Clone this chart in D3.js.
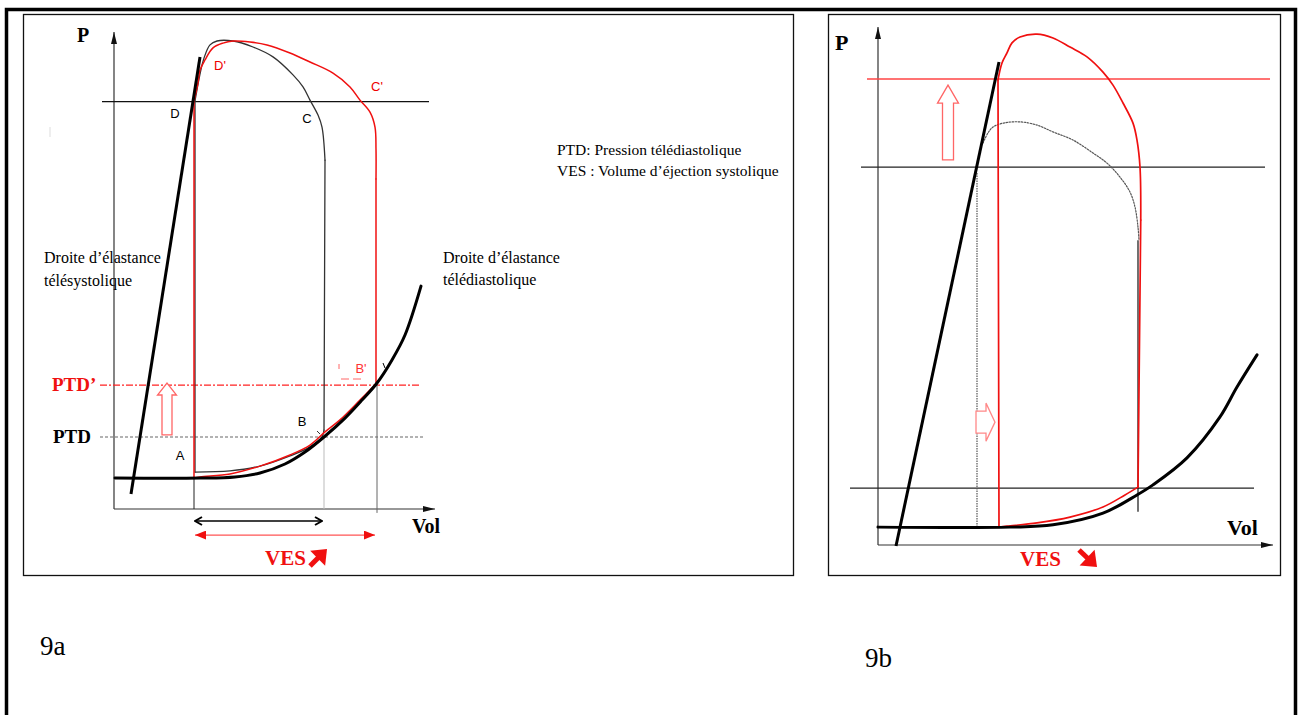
<!DOCTYPE html>
<html><head><meta charset="utf-8">
<script src="https://cdn.jsdelivr.net/npm/d3@7"></script>
<style>body{margin:0;background:#fff;}svg{display:block;}</style>
</head><body>
<svg id="c" width="1300" height="715"></svg>
<script>
// ---------- DATA (Vol in mL, P in mmHg) ----------
// Panel 9a
const espvrA = [[8.5,5],[43,150.7]];
const edpvrA = [[0.5,10.3],[43,10.3],[60.5,10.7],[73,12],[85.5,15],[95.5,19],[105,24],[115.5,30.3],[124,36.3],[131.5,42],[139,49.7],[145.5,58],[153.5,74.3]];
// original loop (black), in pieces
const loopA_bottom = [[40.5,12.3],[58,12.7],[73,14.3],[88,17.7],[98,20.7],[104,24],[105,26.3]];
const loopA_right  = [[105,26.3],[105.5,116.3]];
const loopA_top    = [[105.5,116.3],[104,127.3],[102,131.3],[98,136.3],[94.5,140.7],[89.5,144.7],[79.5,150.7],[69.5,154],[59.5,156],[51.5,156],[48,154.7],[45,150.3],[43,145],[40.5,136]];
const loopA_left   = [[40.5,136],[40.5,12.3]];
// new loop (red), in pieces
const loopA2_left   = [[40,10.3],[40,136]];
const loopA2_top    = [[40,136],[42,142],[43,146.3],[45.5,149.7],[49.5,153.7],[54.5,155.3],[59.5,156],[68,155.7],[76.5,154.7],[88,152],[98,149],[109.5,145.3],[118,140.7],[123,136.3],[128,132.3],[130.5,127.3],[131,120],[131,110]];
const loopA2_right  = [[131,110],[131,41.7]];
const loopA2_bottom = [[131,41.7],[123,36.3],[113,29.7],[105.5,25.7],[98,21.3],[88,18],[73,14.3],[58,11.7],[43,10.7],[40,10.3]];
const refLinesA = [ {p:135.8, v0:-6, v1:157.5, kind:"black"}, {p:41.3, v0:-7, v1:153, kind:"ptd2"}, {p:24, v0:-7, v1:154.5, kind:"ptd"} ];
const dropsA = [ {v:40, p0:10.3, p1:0, kind:"black"}, {v:105, p0:24, p1:0, kind:"light"}, {v:131.5, p0:41.7, p1:-1.3, kind:"gray"} ];
const vesA = [ {p:-4, v0:40.5, v1:104, kind:"black"}, {p:-8.7, v0:40.5, v1:130.5, kind:"red"} ];
const upArrowA = {v:26.5, p0:24.7, p1:42};
const labelsA = [ {t:"D",v:30.5,p:132,c:"#000"}, {t:"C",v:96.5,p:130.3,c:"#000"}, {t:"D'",v:53,p:147.7,c:"#e00"}, {t:"C'",v:131.5,p:140.7,c:"#e00"}, {t:"A",v:33,p:18,c:"#000"}, {t:"B",v:94,p:29.3,c:"#000"}, {t:"B'",v:123.5,p:47,c:"#f33"} ];
const sideTextA = ["PTD: Pression télédiastolique","VES : Volume d’éjection systolique"];
const espvrTextA = ["Droite d’élastance","télésystolique"];
const edpvrTextA = ["Droite d’élastance","télédiastolique"];

// Panel 9b
const espvrB = [[7.2,-0.3],[48.4,148.6]];
const edpvrB = [[0,5.5],[52.8,5.5],[70,6.2],[90,9.8],[103.6,15.4],[110,18.5],[123.6,26.8],[136.8,39.4],[143.6,48.6],[151.6,58.5]];
const loopB2_left   = [[48.4,5.5],[48,143.1]];
const loopB2_top    = [[48,143.1],[49.6,148.3],[51.6,151.4],[53.6,154.5],[56.8,156.3],[63.6,157.2],[70,156],[76.8,153.2],[83.6,150.2],[90,145.5],[94,141.5],[98,136],[102,129.8],[103.6,124.6],[104.8,116.3],[105.1,100]];
const loopB2_right  = [[105.1,100],[104,17.8]];
const loopB2_bottom = [[104,17.8],[98.8,15.4],[90,11.7],[76.8,8.6],[63.6,6.8],[51.6,5.8],[48.4,5.5]];
const loopBTop = [[42,123.7],[44,126.8],[46,128.6],[50,129.8],[56.8,130.2],[63.6,129.2],[70,127.1],[78,124.6],[86,120.6],[91.6,117.5],[96.8,113.2],[100.8,108.6],[102.8,104],[104,97.8],[104.4,93.8]];
const refLinesB = [ {p:143.4, v0:-4.4, v1:156.8, kind:"red"}, {p:116.3, v0:-6.8, v1:154.8, kind:"black"}, {p:17.5, v0:-11.2, v1:150.4, kind:"black"} ];
const dropsB = [ {v:104, p0:93.8, p1:10.2, kind:"black"}, {v:39.6, p0:114.5, p1:5.5, kind:"dotted"} ];
const upArrowB = {v:28, p0:118.5, p1:141.5};
const rightArrowB = {p:37.8, v0:39.2, v1:46.8};

// ---------- SCALES ----------
const xA = d3.scaleLinear().domain([0,160]).range([114,434]);
const yA = d3.scaleLinear().domain([0,160]).range([509,29]);
const xB = d3.scaleLinear().domain([0,160]).range([878,1278]);
const yB = d3.scaleLinear().domain([0,160]).range([545,25]);

const svg = d3.select("#c");
const SERIF = "'Liberation Serif','Times New Roman',serif";
const SANS = "'Liberation Sans',Arial,sans-serif";
const RED = "#f01010";

const defs = svg.append("defs");
function marker(id, d, w, h, refX, color, vb){
  defs.append("marker").attr("id",id).attr("viewBox",vb).attr("markerWidth",w).attr("markerHeight",h)
    .attr("markerUnits","userSpaceOnUse").attr("refX",refX).attr("refY",0).attr("orient","auto-start-reverse")
    .append("path").attr("d",d).attr("fill",color).attr("stroke","none");
}
marker("axArr","M0,-3L12,0L0,3Z",12,6,12,"#111","0 -3 12 6");
marker("redArr","M0,-4.5L11,0L0,4.5Z",11,9,11,RED,"0 -4.5 11 9");
defs.append("marker").attr("id","blkChev").attr("viewBox","0 -5 10 10").attr("markerWidth",10).attr("markerHeight",10)
  .attr("markerUnits","userSpaceOnUse").attr("refX",9).attr("refY",0).attr("orient","auto-start-reverse")
  .append("path").attr("d","M2,-4L9,0L2,4").attr("fill","none").attr("stroke","#000").attr("stroke-width",2);

// ---------- FRAMES ----------
svg.append("path").attr("d","M6.5,715V9.5H1295.5V715").attr("fill","none").attr("stroke","#000").attr("stroke-width",3.5);
svg.append("rect").attr("x",23.5).attr("y",14.5).attr("width",770).attr("height",561).attr("fill","none").attr("stroke","#111").attr("stroke-width",1.3);
svg.append("rect").attr("x",828.5).attr("y",14.5).attr("width",452).attr("height",561).attr("fill","none").attr("stroke","#111").attr("stroke-width",1.3);

// ---------- helpers ----------
function curve(g, x, y, pts, style){
  const line = d3.line().x(d=>x(d[0])).y(d=>y(d[1])).curve(d3.curveCatmullRom.alpha(0.5));
  const p = g.append("path").attr("d", line(pts)).attr("fill","none").attr("stroke-linecap","round").attr("stroke-linejoin","round");
  Object.entries(style).forEach(([k,v])=>p.attr(k,v));
  return p;
}
function straight(g, x, y, pts, style){
  const line = d3.line().x(d=>x(d[0])).y(d=>y(d[1]));
  const p = g.append("path").attr("d", line(pts)).attr("fill","none");
  Object.entries(style).forEach(([k,v])=>p.attr(k,v));
  return p;
}
function loop(g, x, y, pieces, style){
  pieces.forEach(([kind, pts])=>{
    const p = kind==="c" ? curve(g,x,y,pts,style) : straight(g,x,y,pts,style);
    p.attr("stroke-linecap","round");
  });
}
function hollowArrow(g, x0,y0,x1,y1, bw, hw, hl, color){
  const dx=x1-x0, dy=y1-y0, L=Math.hypot(dx,dy), ux=dx/L, uy=dy/L, nx=-uy, ny=ux;
  const bx=x1-ux*hl, by=y1-uy*hl;
  const pts=[[x0+nx*bw,y0+ny*bw],[bx+nx*bw,by+ny*bw],[bx+nx*hw,by+ny*hw],[x1,y1],[bx-nx*hw,by-ny*hw],[bx-nx*bw,by-ny*bw],[x0-nx*bw,y0-ny*bw]];
  g.append("path").attr("d","M"+pts.map(p=>p.join(",")).join("L")+"Z").attr("fill","#fff").attr("stroke",color).attr("stroke-width",1.3);
}
function axes(g, x, y, vmax, pmax){
  g.append("line").attr("x1",x(0)).attr("y1",y(0)).attr("x2",x(0)).attr("y2",y(pmax)).attr("stroke","#333").attr("stroke-width",1.2).attr("marker-end","url(#axArr)");
  g.append("line").attr("x1",x(0)).attr("y1",y(0)).attr("x2",x(vmax)).attr("y2",y(0)).attr("stroke","#333").attr("stroke-width",1.2).attr("marker-end","url(#axArr)");
}
function text(g, x, y, t, size, opts={}){
  const e = g.append("text").attr("x",x).attr("y",y).text(t).attr("font-size",size)
    .attr("font-family",opts.family||SERIF).attr("fill",opts.fill||"#000");
  if(opts.bold) e.attr("font-weight","bold");
  if(opts.anchor) e.attr("text-anchor",opts.anchor);
  if(opts.mid) e.attr("dominant-baseline","central");
  return e;
}
function bigArrow(g, x0,y0,x1,y1, color){
  // heavy diagonal arrow glyph from (x0,y0) tail to (x1,y1) tip
  const dx=x1-x0, dy=y1-y0, L=Math.hypot(dx,dy), ux=dx/L, uy=dy/L, nx=-uy, ny=ux;
  const hl=L*0.55, hw=hl*0.8;
  g.append("line").attr("x1",x0).attr("y1",y0).attr("x2",x1-ux*hl*0.7).attr("y2",y1-uy*hl*0.7).attr("stroke",color).attr("stroke-width",5);
  const bx=x1-ux*hl, by=y1-uy*hl;
  g.append("path").attr("d",`M${x1},${y1}L${bx+nx*hw},${by+ny*hw}L${bx-nx*hw},${by-ny*hw}Z`).attr("fill",color);
}

// ---------- PANEL 9a ----------
const gA = svg.append("g");
axes(gA, xA, yA, 160.5, 159);
refLinesA.forEach(r=>{
  const st = r.kind==="black" ? {stroke:"#111","stroke-width":1.3}
           : r.kind==="ptd2" ? {stroke:"#f22","stroke-width":1.1,"stroke-dasharray":"7,2,2,2"}
           : {stroke:"#666","stroke-width":1.1,"stroke-dasharray":"3,2"};
  straight(gA, xA, yA, [[r.v0,r.p],[r.v1,r.p]], st);
});
dropsA.forEach(d=>{
  const st = d.kind==="black" ? {stroke:"#222","stroke-width":1} : d.kind==="light" ? {stroke:"#bbb","stroke-width":1} : {stroke:"#666","stroke-width":1};
  straight(gA, xA, yA, [[d.v,d.p0],[d.v,d.p1]], st);
});
loop(gA, xA, yA, [["c",loopA_bottom],["l",loopA_right],["c",loopA_top],["l",loopA_left]], {stroke:"#333","stroke-width":1.3});
loop(gA, xA, yA, [["l",loopA2_left],["c",loopA2_top],["l",loopA2_right],["c",loopA2_bottom]], {stroke:RED,"stroke-width":1.5});
straight(gA, xA, yA, espvrA, {stroke:"#000","stroke-width":3});
curve(gA, xA, yA, edpvrA, {stroke:"#000","stroke-width":3});
vesA.forEach(a=>{
  const red = a.kind==="red";
  straight(gA, xA, yA, [[a.v0,a.p],[a.v1,a.p]], {stroke: red?"#f55":"#000","stroke-width":red?1.2:1.6,
    "marker-start": red?"url(#redArr)":"url(#blkChev)", "marker-end": red?"url(#redArr)":"url(#blkChev)"});
});
hollowArrow(gA, xA(upArrowA.v), yA(upArrowA.p0), xA(upArrowA.v), yA(upArrowA.p1), 5, 9.5, 12, "#f66");
gA.append("path").attr("d","M339,364V369 M341,379H349 M353,379H361").attr("stroke","#f66").attr("stroke-width",1).attr("fill","none");
gA.append("path").attr("d","M383,363L385,368").attr("stroke","#000").attr("stroke-width",1).attr("fill","none");
gA.append("path").attr("d","M317,431L320,434").attr("stroke","#333").attr("stroke-width",1).attr("fill","none");
gA.append("line").attr("x1",50).attr("y1",127).attr("x2",50).attr("y2",137).attr("stroke","#ddd").attr("stroke-width",1);
labelsA.forEach(l=> text(gA, xA(l.v), yA(l.p), l.t, 13, {family:SANS, fill:l.c, anchor:"middle", mid:true}));
text(gA, 77, 42, "P", 20, {bold:true});
text(gA, 412, 533, "Vol", 20, {bold:true});
text(gA, 52, 391, "PTD’", 19, {bold:true, fill:RED});
text(gA, 53, 443, "PTD", 19, {bold:true});
text(gA, 265, 565, "VES", 21, {bold:true, fill:RED});
bigArrow(gA, 310, 566, 327, 549, RED);
espvrTextA.forEach((t,i)=> text(gA, 44, 263+i*23, t, 16));
edpvrTextA.forEach((t,i)=> text(gA, 443, 263+i*22, t, 16));
sideTextA.forEach((t,i)=> text(gA, 557, 155+i*21, t, 15.5));
text(svg, 40, 655, "9a", 27);

// ---------- PANEL 9b ----------
const gB = svg.append("g");
axes(gB, xB, yB, 158, 159.4);
refLinesB.forEach(r=>{
  const st = r.kind==="red" ? {stroke:"#f44","stroke-width":1.4} : {stroke:"#222","stroke-width":1.2};
  straight(gB, xB, yB, [[r.v0,r.p],[r.v1,r.p]], st);
});
dropsB.forEach(d=>{
  const st = d.kind==="black" ? {stroke:"#111","stroke-width":1.2} : {stroke:"#555","stroke-width":1.2,"stroke-dasharray":"1.5,1"};
  straight(gB, xB, yB, [[d.v,d.p0],[d.v,d.p1]], st);
});
curve(gB, xB, yB, loopBTop, {stroke:"#555","stroke-width":1.2,"stroke-dasharray":"1.5,1.5"});
loop(gB, xB, yB, [["l",loopB2_left],["c",loopB2_top],["l",loopB2_right],["c",loopB2_bottom]], {stroke:RED,"stroke-width":1.7});
straight(gB, xB, yB, espvrB, {stroke:"#000","stroke-width":3});
curve(gB, xB, yB, edpvrB, {stroke:"#000","stroke-width":3});
hollowArrow(gB, xB(upArrowB.v), yB(upArrowB.p0), xB(upArrowB.v), yB(upArrowB.p1), 5.5, 10.5, 18, "#f66");
hollowArrow(gB, xB(rightArrowB.v0), yB(rightArrowB.p), xB(rightArrowB.v1), yB(rightArrowB.p), 11, 19, 9, "#f88");
text(gB, 835, 50, "P", 22, {bold:true});
text(gB, 1227, 535, "Vol", 22, {bold:true});
text(gB, 1020, 566, "VES", 21, {bold:true, fill:RED});
bigArrow(gB, 1079, 550, 1097, 567, RED);
text(svg, 865, 667, "9b", 27);
</script>
</body></html>
